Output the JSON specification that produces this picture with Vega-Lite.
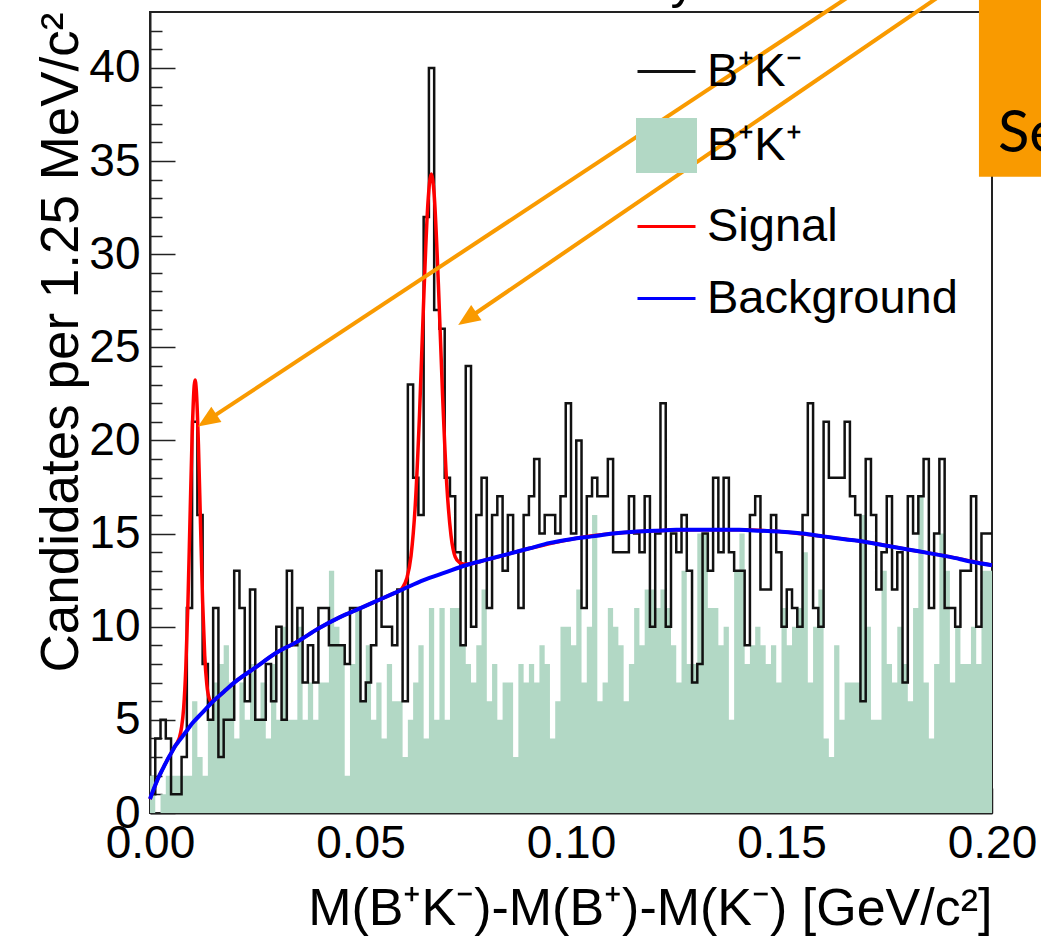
{
  "$schema": "https://vega.github.io/schema/vega-lite/v6.json",
  "autosize": {"type": "none"},
  "width": 842,
  "height": 801,
  "padding": {"left": 150, "top": 12, "right": 49, "bottom": 126},
  "background": "white",
  "config": {
    "view": {"stroke": "#222222", "strokeWidth": 2},
    "axis": {"domainColor": "#222222", "domainWidth": 2, "tickColor": "#222222", "tickWidth": 1.5, "labelFont": "Liberation Sans", "labelFontSize": 46, "labelColor": "black", "titleFont": "Liberation Sans", "titleFontWeight": "normal", "titleColor": "black", "grid": false, "labelOverlap": false, "labelFlush": false, "labelBound": false, "zindex": 1, "ticks": true}
  },
  "datasets": {
    "hist": [
      {"x":0,"bk":1,"gr":2},{"x":0.00125,"bk":4,"gr":0},{"x":0.0025,"bk":5,"gr":1},{"x":0.00375,"bk":4,"gr":2},{"x":0.005,"bk":1,"gr":2},{"x":0.00625,"bk":1,"gr":2},{"x":0.0075,"bk":3,"gr":2},{"x":0.00875,"bk":11,"gr":2},
      {"x":0.01,"bk":21,"gr":6},{"x":0.01125,"bk":16,"gr":3},{"x":0.0125,"bk":8,"gr":2},{"x":0.01375,"bk":5,"gr":5},{"x":0.015,"bk":11,"gr":7},{"x":0.01625,"bk":3,"gr":8},{"x":0.0175,"bk":5,"gr":9},{"x":0.01875,"bk":5,"gr":7},
      {"x":0.02,"bk":13,"gr":4},{"x":0.02125,"bk":11,"gr":7},{"x":0.0225,"bk":6,"gr":5},{"x":0.02375,"bk":12,"gr":8},{"x":0.025,"bk":5,"gr":5},{"x":0.02625,"bk":5,"gr":7},{"x":0.0275,"bk":8,"gr":4},{"x":0.02875,"bk":6,"gr":8},
      {"x":0.03,"bk":10,"gr":5},{"x":0.03125,"bk":5,"gr":10},{"x":0.0325,"bk":13,"gr":5},{"x":0.03375,"bk":9,"gr":5},{"x":0.035,"bk":11,"gr":10},{"x":0.03625,"bk":7,"gr":5},{"x":0.0375,"bk":9,"gr":7},{"x":0.03875,"bk":7,"gr":5},
      {"x":0.04,"bk":11,"gr":7},{"x":0.04125,"bk":11,"gr":7},{"x":0.0425,"bk":9,"gr":13},{"x":0.04375,"bk":9,"gr":10},{"x":0.045,"bk":9,"gr":9},{"x":0.04625,"bk":8,"gr":2},{"x":0.0475,"bk":11,"gr":8},{"x":0.04875,"bk":11,"gr":11},
      {"x":0.05,"bk":6,"gr":6},{"x":0.05125,"bk":7,"gr":9},{"x":0.0525,"bk":9,"gr":5},{"x":0.05375,"bk":13,"gr":7},{"x":0.055,"bk":10,"gr":4},{"x":0.05625,"bk":10,"gr":8},{"x":0.0575,"bk":9,"gr":6},{"x":0.05875,"bk":12,"gr":6},
      {"x":0.06,"bk":6,"gr":3},{"x":0.06125,"bk":23,"gr":5},{"x":0.0625,"bk":18,"gr":7},{"x":0.06375,"bk":16,"gr":9},{"x":0.065,"bk":32,"gr":4},{"x":0.06625,"bk":40,"gr":11},{"x":0.0675,"bk":27,"gr":5},{"x":0.06875,"bk":26,"gr":11},
      {"x":0.07,"bk":18,"gr":5},{"x":0.07125,"bk":17,"gr":11},{"x":0.0725,"bk":14,"gr":11},{"x":0.07375,"bk":9,"gr":9},{"x":0.075,"bk":24,"gr":8},{"x":0.07625,"bk":10,"gr":7},{"x":0.0775,"bk":16,"gr":9},{"x":0.07875,"bk":18,"gr":12},
      {"x":0.08,"bk":11,"gr":6},{"x":0.08125,"bk":16,"gr":8},{"x":0.0825,"bk":17,"gr":5},{"x":0.08375,"bk":13,"gr":7},{"x":0.085,"bk":16,"gr":7},{"x":0.08625,"bk":14,"gr":3},{"x":0.0875,"bk":11,"gr":8},{"x":0.08875,"bk":16,"gr":7},
      {"x":0.09,"bk":17,"gr":8},{"x":0.09125,"bk":19,"gr":7},{"x":0.0925,"bk":15,"gr":9},{"x":0.09375,"bk":16,"gr":8},{"x":0.095,"bk":16,"gr":4},{"x":0.09625,"bk":15,"gr":6},{"x":0.0975,"bk":17,"gr":10},{"x":0.09875,"bk":22,"gr":10},
      {"x":0.1,"bk":15,"gr":9},{"x":0.10125,"bk":20,"gr":12},{"x":0.1025,"bk":11,"gr":7},{"x":0.10375,"bk":17,"gr":10},{"x":0.105,"bk":18,"gr":16},{"x":0.10625,"bk":17,"gr":6},{"x":0.1075,"bk":17,"gr":7},{"x":0.10875,"bk":19,"gr":11},
      {"x":0.11,"bk":14,"gr":10},{"x":0.11125,"bk":14,"gr":9},{"x":0.1125,"bk":14,"gr":6},{"x":0.11375,"bk":17,"gr":8},{"x":0.115,"bk":15,"gr":11},{"x":0.11625,"bk":14,"gr":9},{"x":0.1175,"bk":17,"gr":12},{"x":0.11875,"bk":10,"gr":12},
      {"x":0.12,"bk":15,"gr":11},{"x":0.12125,"bk":22,"gr":12},{"x":0.1225,"bk":10,"gr":11},{"x":0.12375,"bk":15,"gr":9},{"x":0.125,"bk":14,"gr":7},{"x":0.12625,"bk":16,"gr":13},{"x":0.1275,"bk":13,"gr":8},{"x":0.12875,"bk":7,"gr":8},
      {"x":0.13,"bk":8,"gr":15},{"x":0.13125,"bk":15,"gr":15},{"x":0.1325,"bk":13,"gr":11},{"x":0.13375,"bk":18,"gr":11},{"x":0.135,"bk":14,"gr":9},{"x":0.13625,"bk":18,"gr":10},{"x":0.1375,"bk":14,"gr":5},{"x":0.13875,"bk":13,"gr":13},
      {"x":0.14,"bk":13,"gr":15},{"x":0.14125,"bk":9,"gr":8},{"x":0.1425,"bk":16,"gr":9},{"x":0.14375,"bk":17,"gr":10},{"x":0.145,"bk":12,"gr":9},{"x":0.14625,"bk":12,"gr":8},{"x":0.1475,"bk":16,"gr":9},{"x":0.14875,"bk":14,"gr":7},
      {"x":0.15,"bk":10,"gr":11},{"x":0.15125,"bk":12,"gr":9},{"x":0.1525,"bk":11,"gr":10},{"x":0.15375,"bk":10,"gr":11},{"x":0.155,"bk":16,"gr":14},{"x":0.15625,"bk":22,"gr":7},{"x":0.1575,"bk":11,"gr":10},{"x":0.15875,"bk":10,"gr":12},
      {"x":0.16,"bk":21,"gr":4},{"x":0.16125,"bk":18,"gr":3},{"x":0.1625,"bk":18,"gr":9},{"x":0.16375,"bk":18,"gr":5},{"x":0.165,"bk":21,"gr":7},{"x":0.16625,"bk":17,"gr":7},{"x":0.1675,"bk":16,"gr":7},{"x":0.16875,"bk":6,"gr":16},
      {"x":0.17,"bk":19,"gr":10},{"x":0.17125,"bk":16,"gr":5},{"x":0.1725,"bk":12,"gr":5},{"x":0.17375,"bk":14,"gr":13},{"x":0.175,"bk":17,"gr":8},{"x":0.17625,"bk":12,"gr":7},{"x":0.1775,"bk":14,"gr":10},{"x":0.17875,"bk":7,"gr":8},
      {"x":0.18,"bk":17,"gr":6},{"x":0.18125,"bk":15,"gr":11},{"x":0.1825,"bk":17,"gr":17},{"x":0.18375,"bk":19,"gr":7},{"x":0.185,"bk":11,"gr":4},{"x":0.18625,"bk":15,"gr":8},{"x":0.1875,"bk":19,"gr":15},{"x":0.18875,"bk":11,"gr":13},
      {"x":0.19,"bk":11,"gr":7},{"x":0.19125,"bk":10,"gr":10},{"x":0.1925,"bk":13,"gr":8},{"x":0.19375,"bk":13,"gr":8},{"x":0.195,"bk":17,"gr":10},{"x":0.19625,"bk":10,"gr":8},{"x":0.1975,"bk":15,"gr":13},{"x":0.19875,"bk":15,"gr":13},
      {"x":0.2,"bk":15,"gr":13}
    ],
    "bg": [
      {"x":0,"y":0.75},{"x":0.001,"y":1.35},{"x":0.002,"y":1.9},{"x":0.003,"y":2.35},{"x":0.004,"y":2.8},{"x":0.005,"y":3.2},{"x":0.006,"y":3.6},{"x":0.007,"y":3.9},{"x":0.008,"y":4.2},{"x":0.009,"y":4.5},{"x":0.01,"y":4.8},{"x":0.0125,"y":5.4},{"x":0.015,"y":6.0},{"x":0.0175,"y":6.5},{"x":0.02,"y":7.0},{"x":0.025,"y":7.8},{"x":0.03,"y":8.6},{"x":0.035,"y":9.2},{"x":0.04,"y":9.9},{"x":0.045,"y":10.5},{"x":0.05,"y":11.0},{"x":0.055,"y":11.5},{"x":0.06,"y":12.0},{"x":0.065,"y":12.5},{"x":0.07,"y":12.9},{"x":0.075,"y":13.3},{"x":0.08,"y":13.6},{"x":0.085,"y":13.9},{"x":0.09,"y":14.2},{"x":0.095,"y":14.5},{"x":0.1,"y":14.7},{"x":0.105,"y":14.85},{"x":0.11,"y":15.0},{"x":0.115,"y":15.1},{"x":0.12,"y":15.15},{"x":0.125,"y":15.2},{"x":0.13,"y":15.2},{"x":0.135,"y":15.2},{"x":0.14,"y":15.2},{"x":0.145,"y":15.15},{"x":0.15,"y":15.1},{"x":0.155,"y":15.0},{"x":0.16,"y":14.85},{"x":0.165,"y":14.7},{"x":0.17,"y":14.55},{"x":0.175,"y":14.35},{"x":0.18,"y":14.15},{"x":0.185,"y":13.95},{"x":0.19,"y":13.75},{"x":0.195,"y":13.5},{"x":0.2,"y":13.3}
    ],
    "tot": [
      {"x":0,"y":0.75},{"x":0.002,"y":1.9},{"x":0.004,"y":2.8},{"x":0.006,"y":3.6},{"x":0.0065,"y":3.8},{"x":0.007,"y":4.05},{"x":0.0075,"y":4.6},{"x":0.008,"y":5.65},{"x":0.0085,"y":7.75},{"x":0.009,"y":11.2},{"x":0.0095,"y":15.75},{"x":0.01,"y":20.2},{"x":0.0105,"y":22.95},{"x":0.0107,"y":23.25},{"x":0.011,"y":22.7},{"x":0.0115,"y":19.8},{"x":0.012,"y":15.5},{"x":0.0125,"y":11.35},{"x":0.013,"y":8.45},{"x":0.0135,"y":6.9},{"x":0.014,"y":6.2},{"x":0.0145,"y":6.0},{"x":0.015,"y":6.03},{"x":0.0175,"y":6.5},{"x":0.02,"y":7.0},{"x":0.025,"y":7.8},{"x":0.03,"y":8.6},{"x":0.035,"y":9.2},{"x":0.04,"y":9.9},{"x":0.045,"y":10.5},{"x":0.05,"y":11.0},{"x":0.055,"y":11.5},{"x":0.058,"y":11.8},{"x":0.059,"y":11.9},{"x":0.06,"y":12.1},{"x":0.061,"y":12.6},{"x":0.062,"y":13.8},{"x":0.063,"y":16.5},{"x":0.064,"y":21.3},{"x":0.065,"y":27.5},{"x":0.066,"y":32.7},{"x":0.0668,"y":34.3},{"x":0.0675,"y":33.2},{"x":0.0685,"y":28.4},{"x":0.0695,"y":22.4},{"x":0.0705,"y":17.6},{"x":0.0715,"y":14.9},{"x":0.0725,"y":13.75},{"x":0.0735,"y":13.45},{"x":0.075,"y":13.35},{"x":0.08,"y":13.6},{"x":0.09,"y":14.2},{"x":0.1,"y":14.7},{"x":0.11,"y":15.0},{"x":0.12,"y":15.15},{"x":0.13,"y":15.2},{"x":0.14,"y":15.2},{"x":0.15,"y":15.1},{"x":0.16,"y":14.85},{"x":0.17,"y":14.55},{"x":0.18,"y":14.15},{"x":0.19,"y":13.75},{"x":0.2,"y":13.3}
    ],
    "arrows": [
      {"a":1,"x":0.1655,"y":43.75},{"a":1,"x":0.0138,"y":21.1},
      {"a":2,"x":0.1869,"y":43.75},{"a":2,"x":0.0756,"y":26.56}
    ],
    "heads": [
      {"x":0.0114,"y":20.75,"dir":236.7},
      {"x":0.0732,"y":26.2,"dir":235.8}
    ],
    "box": [{"x":0.1969,"x2":0.215,"y":44,"y2":34.15}],
    "notes": [{"t":"Se","x":0.2014,"y":35.48}],
    "cut": [{"t":"y","x":0.1266,"y":43.75}]
  },
  "layer": [
    {
      "data": {"name": "hist"},
      "mark": {"type": "area", "interpolate": "step-after"},
      "encoding": {
        "x": {"field": "x", "type": "quantitative", "scale": {"domain": [0, 0.2], "nice": false, "zero": false},
          "axis": {
            "values": [0,0.01,0.02,0.03,0.04,0.05,0.06,0.07,0.08,0.09,0.1,0.11,0.12,0.13,0.14,0.15,0.16,0.17,0.18,0.19,0.2],
            "tickCount": 100,
            "labelExpr": "abs(datum.value*20 - round(datum.value*20)) < 0.000001 ? format(datum.value, '.2f') : ''",
            "labelOverlap": false,
            "tickSize": {"condition": {"test": "abs(datum.value*20 - round(datum.value*20)) < 0.000001", "value": -25}, "value": -12},
            "labelPadding": 33,
            "title": "M(B⁺K⁻)-M(B⁺)-M(K⁻) [GeV/c²]",
            "titleFontSize": 52,
            "titleAnchor": "end",
            "titlePadding": 4
          }
        },
        "y": {"field": "gr", "type": "quantitative", "scale": {"domain": [0, 43], "nice": false},
          "axis": {
            "values": [0,1,2,3,4,5,6,7,8,9,10,11,12,13,14,15,16,17,18,19,20,21,22,23,24,25,26,27,28,29,30,31,32,33,34,35,36,37,38,39,40,41,42],
            "tickCount": 100,
            "format": "d",
            "labelExpr": "datum.value % 5 === 0 ? format(datum.value, 'd') : ''",
            "labelOverlap": false,
            "tickSize": {"condition": {"test": "datum.value % 5 === 0", "value": -25}, "value": -12},
            "labelPadding": 35,
            "title": "Candidates per 1.25 MeV/c²",
            "titleFontSize": 53,
            "titleAnchor": "end",
            "titlePadding": 0
          }
        },
        "color": {
          "datum": "B⁺K⁺",
          "scale": {"domain": ["B⁺K⁻", "B⁺K⁺", "Signal", "Background"], "range": ["#111111", "#b2d8c5", "#ff0000", "#0000ff"]},
          "legend": {
            "orient": "none", "legendX": 486, "legendY": 29, "title": null,
            "symbolType": "stroke", "symbolSize": 3364, "symbolStrokeWidth": 3,
            "labelFont": "Liberation Sans", "labelFontSize": 47, "labelColor": "black", "labelLimit": 400,
            "labelOffset": 10, "rowPadding": 18, "padding": 0,
            "encode": {
              "symbols": {"update": {
                "shape": {"signal": "datum.value === 'B⁺K⁺' ? 'M-1,-0.9H1V0.9H-1Z' : 'stroke'"},
                "fill": {"signal": "datum.value === 'B⁺K⁺' ? '#b2d8c5' : 'transparent'"},
                "stroke": {"signal": "datum.value === 'B⁺K⁻' ? '#333333' : datum.value === 'Signal' ? '#ff0000' : datum.value === 'Background' ? '#0000ff' : 'transparent'"},
                "strokeWidth": {"value": 3},
                "opacity": {"value": 1}
              }}
            }
          }
        }
      }
    },
    {
      "data": {"name": "hist"},
      "mark": {"type": "line", "interpolate": "step-after", "strokeWidth": 2.5},
      "encoding": {
        "x": {"field": "x", "type": "quantitative", "scale": {"domain": [0, 0.2], "nice": false, "zero": false}},
        "y": {"field": "bk", "type": "quantitative", "scale": {"domain": [0, 43], "nice": false}},
        "color": {"datum": "B⁺K⁻"}
      }
    },
    {
      "data": {"name": "tot"},
      "mark": {"type": "line", "interpolate": "monotone", "strokeWidth": 3.5},
      "encoding": {
        "x": {"field": "x", "type": "quantitative", "scale": {"domain": [0, 0.2], "nice": false, "zero": false}},
        "y": {"field": "y", "type": "quantitative", "scale": {"domain": [0, 43], "nice": false}},
        "color": {"datum": "Signal"}
      }
    },
    {
      "data": {"name": "bg"},
      "mark": {"type": "line", "interpolate": "monotone", "strokeWidth": 4},
      "encoding": {
        "x": {"field": "x", "type": "quantitative", "scale": {"domain": [0, 0.2], "nice": false, "zero": false}},
        "y": {"field": "y", "type": "quantitative", "scale": {"domain": [0, 43], "nice": false}},
        "color": {"datum": "Background"}
      }
    },
    {
      "data": {"name": "arrows"},
      "mark": {"type": "line", "color": "#f99a00", "strokeWidth": 4},
      "encoding": {
        "x": {"field": "x", "type": "quantitative", "scale": {"domain": [0, 0.2], "nice": false, "zero": false}},
        "y": {"field": "y", "type": "quantitative", "scale": {"domain": [0, 43], "nice": false}},
        "detail": {"field": "a", "type": "nominal"}
      }
    },
    {
      "data": {"name": "heads"},
      "mark": {"type": "point", "shape": "M0,0L0.42,1L-0.42,1Z", "filled": true, "size": 1936, "color": "#f99a00", "opacity": 1, "strokeWidth": 0},
      "encoding": {
        "x": {"field": "x", "type": "quantitative", "scale": {"domain": [0, 0.2], "nice": false, "zero": false}},
        "y": {"field": "y", "type": "quantitative", "scale": {"domain": [0, 43], "nice": false}},
        "angle": {"field": "dir", "type": "quantitative", "scale": null}
      }
    },
    {
      "data": {"name": "box"},
      "mark": {"type": "rect", "color": "#f99a00"},
      "encoding": {
        "x": {"field": "x", "type": "quantitative", "scale": {"domain": [0, 0.2], "nice": false, "zero": false}},
        "x2": {"field": "x2"},
        "y": {"field": "y", "type": "quantitative", "scale": {"domain": [0, 43], "nice": false}},
        "y2": {"field": "y2"}
      }
    },
    {
      "data": {"name": "notes"},
      "mark": {"type": "text", "font": "Lato", "fontSize": 58, "align": "left", "baseline": "alphabetic", "color": "black"},
      "encoding": {
        "x": {"field": "x", "type": "quantitative", "scale": {"domain": [0, 0.2], "nice": false, "zero": false}},
        "y": {"field": "y", "type": "quantitative", "scale": {"domain": [0, 43], "nice": false}},
        "text": {"field": "t"}
      }
    },
    {
      "data": {"name": "cut"},
      "mark": {"type": "text", "font": "Liberation Sans", "fontSize": 50, "align": "center", "baseline": "alphabetic", "color": "black"},
      "encoding": {
        "x": {"field": "x", "type": "quantitative", "scale": {"domain": [0, 0.2], "nice": false, "zero": false}},
        "y": {"field": "y", "type": "quantitative", "scale": {"domain": [0, 43], "nice": false}},
        "text": {"field": "t"}
      }
    }
  ]
}
